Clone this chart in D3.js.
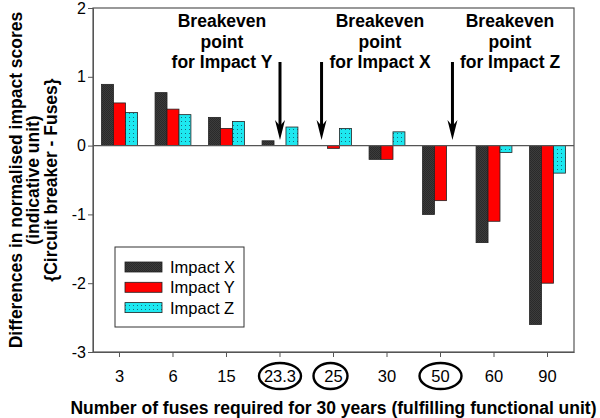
<!DOCTYPE html>
<html><head><meta charset="utf-8">
<script src="https://cdn.jsdelivr.net/npm/d3@7"></script>
<style>body{margin:0;background:#fff}svg{display:block;font-family:"Liberation Sans",Arial,sans-serif}</style>
</head><body><svg id="c" width="600" height="418"></svg>
<script>
const categories = ["3","6","15","23.3","25","30","50","60","90"];
const impactX = [0.89, 0.77, 0.41, 0.07, 0, -0.2, -1.0, -1.41, -2.6];
const impactY = [0.62, 0.53, 0.25, 0, -0.04, -0.2, -0.8, -1.1, -2.0];
const impactZ = [0.48, 0.45, 0.35, 0.27, 0.25, 0.2, 0, -0.1, -0.4];
const seriesNames = ["Impact X","Impact Y","Impact Z"];
const yTicks = [2,1,0,-1,-2,-3];
const circled = ["23.3","25","50"];
const notes = [
  {lines:["Breakeven","point","for Impact Y"], cat:"23.3", series:"Impact Y"},
  {lines:["Breakeven","point","for Impact X"], cat:"25", series:"Impact X"},
  {lines:["Breakeven","point","for Impact Z"], cat:"50", series:"Impact Z"}
];

const svg = d3.select("#c");
const L=93, R=574, T=8, B=352;
const x = d3.scaleBand().domain(categories).range([L,R]).paddingInner(0.33).paddingOuter(0.16);
const xs = d3.scaleBand().domain(seriesNames).range([0,x.bandwidth()]);
const y = d3.scaleLinear().domain([-3,2]).range([B,T]);

const defs = svg.append("defs");
const pd = defs.append("pattern").attr("id","pDark").attr("width",2).attr("height",2).attr("patternUnits","userSpaceOnUse");
pd.append("rect").attr("width",2).attr("height",2).attr("fill","#3c3c3c");
pd.append("rect").attr("width",1).attr("height",1).attr("fill","#2a2a2a");
pd.append("rect").attr("x",1).attr("y",1).attr("width",1).attr("height",1).attr("fill","#2a2a2a");
const pc = defs.append("pattern").attr("id","pCyan").attr("width",4).attr("height",4).attr("patternUnits","userSpaceOnUse");
pc.append("rect").attr("width",4).attr("height",4).attr("fill","#1ee8f0");
pc.append("rect").attr("x",1).attr("y",1).attr("width",1).attr("height",1).attr("fill","#1a6b80");
const fills = {"Impact X":"url(#pDark)","Impact Y":"#ff0000","Impact Z":"url(#pCyan)"};

// frame
svg.append("rect").attr("x",L).attr("y",T).attr("width",R-L).attr("height",B-T)
  .attr("fill","none").attr("stroke","#555").attr("stroke-width",1.2);

const data = [];
categories.forEach((c,i)=>{
  data.push({c,s:"Impact X",v:impactX[i]});
  data.push({c,s:"Impact Y",v:impactY[i]});
  data.push({c,s:"Impact Z",v:impactZ[i]});
});
svg.append("g").selectAll("rect").data(data.filter(d=>d.v!==0)).join("rect")
  .attr("x",d=>x(d.c)+xs(d.s))
  .attr("width",xs.bandwidth())
  .attr("y",d=>y(Math.max(0,d.v)))
  .attr("height",d=>Math.abs(y(d.v)-y(0)))
  .attr("fill",d=>fills[d.s]).attr("stroke","#222").attr("stroke-width",0.8);

// zero line
svg.append("line").attr("x1",L).attr("x2",R).attr("y1",y(0)).attr("y2",y(0)).attr("stroke","#555").attr("stroke-width",1.2);

// axes
const ya = svg.append("g").attr("transform",`translate(${L},0)`)
  .call(d3.axisLeft(y).tickValues(yTicks).tickFormat(d=>String(d)).tickSize(5).tickPadding(2));
ya.select(".domain").attr("stroke","#555");
ya.selectAll(".tick line").attr("stroke","#555");
ya.selectAll("text").attr("font-size",16).attr("fill","#000").attr("font-family","Liberation Sans, Arial");

const xa = svg.append("g").attr("transform",`translate(0,${B})`)
  .call(d3.axisBottom(x).tickSize(5).tickPadding(13).tickSizeOuter(0));
xa.select(".domain").attr("stroke","#555");
xa.selectAll(".tick line").attr("stroke","#555");
xa.selectAll("text").attr("font-size",16.5).attr("fill","#000").attr("font-family","Liberation Sans, Arial");

// ellipses
svg.append("g").selectAll("ellipse").data(circled).join("ellipse")
  .attr("cx",d=>x(d)+x.bandwidth()/2-(d==="25"?3:0)).attr("cy",376)
  .attr("rx",d=>d==="25"?17:21).attr("ry",13)
  .attr("fill","none").attr("stroke","#000").attr("stroke-width",2.4);

// axis titles
svg.append("text").attr("x",(L+R)/2).attr("y",414).attr("text-anchor","middle")
  .attr("font-size",17.5).attr("font-weight","bold").text("Number of fuses required for 30 years (fulfilling functional unit)");
const yt = svg.append("text").attr("transform",`translate(0,${(T+B)/2}) rotate(-90)`)
  .attr("text-anchor","middle").attr("font-size",17.5).attr("font-weight","bold");
["Differences in normalised impact scores","(indicative unit)","{Circuit breaker - Fuses}"].forEach((t,i)=>{
  yt.append("tspan").attr("x",0).attr("y",22+i*17.3).text(t);
});

// annotations
const textCx = [222, 380, 510];
notes.forEach((n,i)=>{
  const t = svg.append("text").attr("text-anchor","middle").attr("font-size",17.5).attr("font-weight","bold");
  n.lines.forEach((l,j)=>t.append("tspan").attr("x",textCx[i]).attr("y",27+j*20.5).text(l));
  const ax = x(n.cat)+xs(n.series)+xs.bandwidth()/2;
  svg.append("line").attr("x1",ax).attr("x2",ax).attr("y1",62).attr("y2",128)
    .attr("stroke","#000").attr("stroke-width",3);
  svg.append("path").attr("d",`M${ax-5},120 L${ax},140 L${ax+5},120 L${ax},126 Z`).attr("fill","#000");
});

// legend
const lg = svg.append("g");
lg.append("rect").attr("x",115).attr("y",247).attr("width",129).attr("height",80)
  .attr("fill","#fff").attr("stroke","#333").attr("stroke-width",1);
seriesNames.forEach((s,i)=>{
  lg.append("rect").attr("x",125).attr("y",262+i*20.3).attr("width",37).attr("height",10)
    .attr("fill",fills[s]).attr("stroke","#222").attr("stroke-width",0.8);
  lg.append("text").attr("x",170).attr("y",273+i*20.3).attr("font-size",16.5).text(s);
});
</script></body></html>
